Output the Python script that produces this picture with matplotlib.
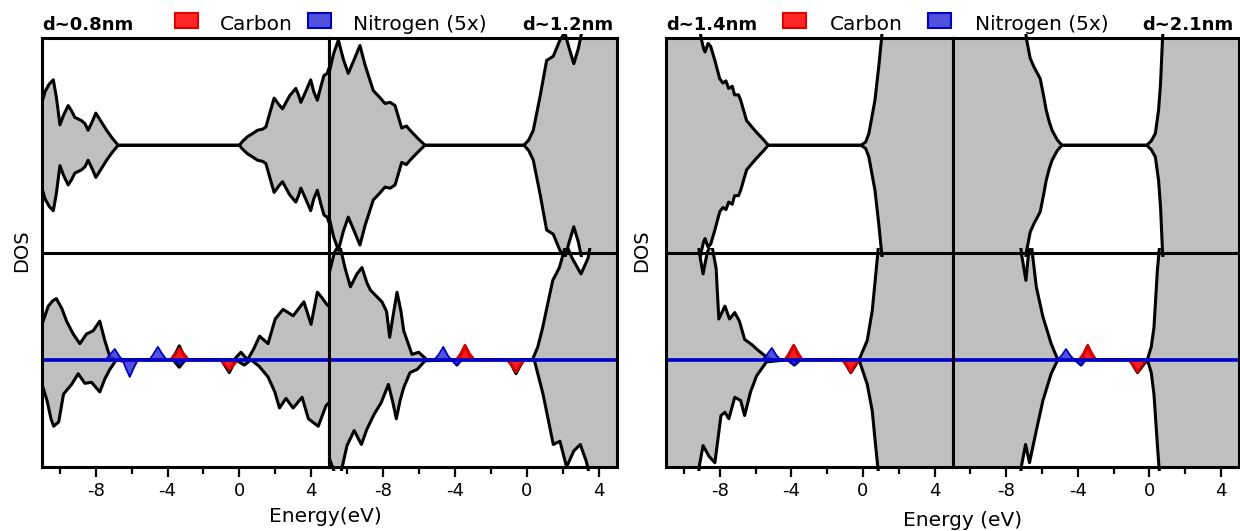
import numpy as np
import matplotlib
matplotlib.use("Agg")
import matplotlib.pyplot as plt
from matplotlib.patches import Rectangle

plt.rcParams['font.family'] = ['DejaVu Sans']
plt.rcParams['axes.unicode_minus'] = False

"""
==================================================================================
    Values read off the picture. Energies in eV, DOS in units of half a row
    (1.0 = the curve touches the row edge, 1.3 = clipped off the row).
==================================================================================
"""

energyRange = (-11, 5)
majorTicks = [-8, -4, 0, 4]
minorTicks = [-10, -6, -2, 2]
majorTickLabels = ["-8", "-4", "0", "4"]

panelSizes = ["d~0.8nm", "d~1.2nm", "d~1.4nm", "d~2.1nm"]
legendLabels = ["Carbon", "Nitrogen (5x)"]
xLabels = ["Energy(eV)", "Energy (eV)"]
yLabel = "DOS"

# d~0.8nm, pristine (top row, mirrored)
col1TopE = [-11.0, -10.83, -10.6, -10.37, -10.2, -10.0, -9.8, -9.54, -9.35, -9.17, -8.8, -8.6, -8.43,
            -8.2, -8.0, -7.7, -7.4, -7.1, -6.76, 0.0, 0.2, 0.46, 0.75, 1.02, 1.3, 1.48, 1.7, 1.94, 2.2,
            2.41, 2.8, 3.15, 3.3, 3.43, 3.7, 3.98, 4.15, 4.35, 4.55, 4.72, 4.9, 5.0]
col1TopD = [0.40, 0.50, 0.57, 0.61, 0.45, 0.19, 0.28, 0.37, 0.32, 0.26, 0.23, 0.20, 0.14,
            0.22, 0.30, 0.22, 0.14, 0.07, 0.0, 0.0, 0.04, 0.08, 0.11, 0.14, 0.15, 0.17, 0.30, 0.44, 0.38,
            0.34, 0.46, 0.53, 0.47, 0.40, 0.50, 0.61, 0.50, 0.42, 0.55, 0.65, 0.67, 0.72]

# d~0.8nm, doped (bottom row, spin up / spin down)
col1BotUpE = [-11.0, -10.65, -10.4, -10.2, -9.9, -9.63, -9.26, -8.89, -8.52, -8.15, -7.78, -7.5, -7.22,
              -6.9, -3.8, -3.55, -3.35, -3.15, -2.9, -0.3, 0.09, 0.46, 0.8, 1.13, 1.6, 2.0, 2.44, 3.0,
              3.6, 4.0, 4.35, 4.6, 4.9, 5.0]
col1BotUpD = [0.33, 0.50, 0.55, 0.57, 0.48, 0.36, 0.24, 0.15, 0.24, 0.27, 0.36, 0.18, 0.03,
              0.0, 0.0, 0.06, 0.13, 0.06, 0.0, 0.0, 0.07, 0.0, 0.10, 0.22, 0.15, 0.38, 0.47, 0.41,
              0.54, 0.33, 0.63, 0.58, 0.51, 0.50]
col1BotDnE = [-11.0, -10.72, -10.5, -10.35, -10.07, -9.8, -9.35, -8.98, -8.61, -8.24, -7.78, -7.5, -7.22,
              -6.85, -3.7, -3.35, -3.0, -1.0, -0.56, -0.2, 0.28, 0.65, 1.1, 1.6, 1.98, 2.24, 2.6, 3.0,
              3.5, 3.85, 4.4, 4.83, 5.0]
col1BotDnD = [0.23, 0.38, 0.55, 0.62, 0.58, 0.32, 0.23, 0.13, 0.22, 0.21, 0.30, 0.18, 0.09,
              0.0, 0.0, 0.07, 0.0, 0.0, 0.12, 0.0, 0.05, 0.0, 0.06, 0.16, 0.30, 0.45, 0.36, 0.45,
              0.35, 0.55, 0.62, 0.43, 0.40]
col1CarbonE = [-11.0, -7.0, -6.5, -6.0, -3.85, -3.6, -3.33, -3.05, -2.8, -1.1, -0.8, -0.56, -0.3, -0.05, 5.0]
col1CarbonD = [0.0, 0.0, -0.02, 0.0, 0.0, 0.05, 0.11, 0.05, 0.0, 0.0, -0.05, -0.10, -0.05, 0.0, 0.0]
col1NitrogenE = [-11.0, -7.45, -7.2, -6.94, -6.68, -6.5, -6.35, -6.11, -5.87, -5.65, -5.0, -4.8, -4.54,
                 -4.28, -4.05, -3.75, -3.33, -2.95, 5.0]
col1NitrogenD = [0.0, 0.0, 0.05, 0.10, 0.03, 0.0, -0.07, -0.16, -0.07, 0.0, 0.0, 0.05, 0.12,
                 0.05, 0.0, 0.0, -0.04, 0.0, 0.0]

# d~1.2nm
col2TopE = [-11.0, -10.75, -10.48, -10.2, -9.93, -9.6, -9.28, -9.0, -8.54, -8.2, -7.89, -7.6, -7.33,
            -6.96, -6.7, -6.5, -6.1, -5.67, -0.17, 0.1, 0.35, 0.72, 1.09, 1.46, 1.83, 2.1, 2.35, 2.6,
            2.85, 3.1, 3.3, 5.0]
col2TopD = [0.67, 0.85, 0.98, 0.80, 0.67, 0.80, 0.93, 0.75, 0.51, 0.45, 0.39, 0.40, 0.37,
            0.16, 0.18, 0.14, 0.07, 0.0, 0.0, 0.05, 0.14, 0.45, 0.79, 0.83, 0.98, 1.05, 0.90, 0.76,
            0.90, 1.10, 1.30, 1.30]
col2BotUpE = [-11.0, -10.7, -10.42, -10.1, -9.81, -9.45, -9.17, -8.9, -8.7, -8.06, -7.8, -7.63, -7.45,
              -7.22, -7.0, -6.85, -6.39, -6.02, -5.56, -3.8, -3.44, -3.1, 0.3, 0.6, 0.87, 1.43, 1.8,
              2.17, 2.5, 3.0, 3.4, 3.65, 5.0]
col2BotUpD = [0.80, 1.0, 1.08, 0.85, 0.68, 0.80, 0.86, 0.72, 0.65, 0.54, 0.45, 0.21, 0.40,
              0.63, 0.45, 0.27, 0.05, 0.07, 0.0, 0.0, 0.13, 0.0, 0.0, 0.12, 0.30, 0.74, 0.86,
              1.08, 0.95, 0.80, 0.95, 1.20, 1.30]
col2BotDnE = [-11.0, -10.7, -10.4, -10.0, -9.6, -9.2, -8.9, -8.5, -8.1, -7.7, -7.45, -7.26, -7.05,
              -6.85, -6.5, -6.1, -5.67, -4.1, -3.89, -3.7, -1.0, -0.61, -0.2, 0.4, 0.89, 1.46, 1.83,
              2.2, 2.6, 2.96, 3.3, 3.5, 5.0]
col2BotDnD = [0.91, 1.05, 1.10, 0.80, 0.66, 0.79, 0.65, 0.51, 0.40, 0.23, 0.40, 0.55, 0.38,
              0.26, 0.12, 0.09, 0.01, 0.0, 0.05, 0.0, 0.0, 0.13, 0.0, 0.0, 0.32, 0.79, 0.76,
              1.0, 0.85, 0.79, 0.95, 1.10, 1.30]
col2CarbonE = [-11.0, -3.95, -3.7, -3.44, -3.18, -2.9, -1.15, -0.88, -0.61, -0.35, -0.1, 5.0]
col2CarbonD = [0.0, 0.0, 0.06, 0.14, 0.06, 0.0, 0.0, -0.05, -0.12, -0.05, 0.0, 0.0]
col2NitrogenE = [-11.0, -5.15, -4.9, -4.65, -4.4, -4.2, -4.05, -3.89, -3.7, -3.55, 5.0]
col2NitrogenD = [0.0, 0.0, 0.05, 0.12, 0.04, 0.0, -0.03, -0.05, -0.02, 0.0, 0.0]

# d~1.4nm
col3TopE = [-11.0, -9.3, -9.04, -8.9, -8.82, -8.65, -8.5, -8.27, -8.0, -7.82, -7.65, -7.5, -7.3,
            -7.17, -6.95, -6.83, -6.5, -6.2, -5.94, -5.6, -5.29, -0.11, 0.15, 0.33, 0.67, 0.88,
            1.04, 1.2, 5.0]
col3TopD = [1.3, 1.3, 1.0, 0.90, 0.87, 0.95, 0.92, 0.79, 0.62, 0.58, 0.60, 0.53, 0.55,
            0.47, 0.47, 0.42, 0.23, 0.17, 0.12, 0.06, 0.0, 0.0, 0.03, 0.11, 0.42, 0.73,
            1.0, 1.3, 1.3]
col3BotUpE = [-11.0, -9.3, -9.14, -8.93, -8.7, -8.45, -8.2, -8.05, -7.71, -7.45, -7.16, -6.9, -6.61,
              -6.2, -5.94, -5.5, -5.1, -4.3, -3.87, -3.45, -0.22, 0.24, 0.52, 0.7, 0.83, 1.0, 5.0]
col3BotUpD = [1.3, 1.3, 1.0, 0.80, 1.0, 1.08, 0.85, 0.38, 0.50, 0.38, 0.44, 0.36, 0.19,
              0.14, 0.10, 0.04, 0.0, 0.0, 0.13, 0.0, 0.0, 0.18, 0.46, 0.77, 1.0, 1.3, 1.3]
col3BotDnE = [-11.0, -9.3, -9.14, -8.93, -8.6, -8.27, -7.93, -7.71, -7.49, -7.16, -6.83, -6.61, -6.28,
              -5.94, -5.39, -4.2, -3.83, -3.5, -1.1, -0.68, -0.22, 0.24, 0.52, 0.7, 0.83, 1.0, 5.0]
col3BotDnD = [1.3, 1.3, 0.99, 0.80, 0.90, 0.96, 0.52, 0.49, 0.55, 0.35, 0.38, 0.52, 0.30,
              0.15, 0.02, 0.0, 0.05, 0.0, 0.0, 0.12, 0.0, 0.23, 0.48, 0.79, 1.0, 1.3, 1.3]
col3CarbonE = [-11.0, -4.4, -4.13, -3.87, -3.6, -3.35, -1.2, -0.94, -0.68, -0.42, -0.15, 5.0]
col3CarbonD = [0.0, 0.0, 0.06, 0.14, 0.06, 0.0, 0.0, -0.05, -0.12, -0.05, 0.0, 0.0]
col3NitrogenE = [-11.0, -5.6, -5.35, -5.09, -4.83, -4.6, -4.2, -4.0, -3.83, -3.65, -3.5, 5.0]
col3NitrogenD = [0.0, 0.0, 0.05, 0.11, 0.04, 0.0, 0.0, -0.03, -0.05, -0.02, 0.0, 0.0]

# d~2.1nm
col4TopE = [-11.0, -7.0, -6.88, -6.66, -6.45, -6.32, -6.1, -5.9, -5.77, -5.6, -5.44, -5.15, -4.89,
            -0.15, 0.1, 0.33, 0.51, 0.62, 0.73, 0.9, 5.0]
col4TopD = [1.3, 1.3, 1.0, 0.81, 0.73, 0.69, 0.62, 0.45, 0.33, 0.22, 0.14, 0.05, 0.0,
            0.0, 0.04, 0.11, 0.33, 0.58, 1.0, 1.3, 1.3]
col4BotUpE = [-11.0, -7.3, -7.16, -6.9, -6.75, -6.6, -6.32, -5.95, -5.49, -5.12, -3.8, -3.45, -3.1,
              -0.12, 0.1, 0.25, 0.44, 0.53, 0.7, 5.0]
col4BotUpD = [1.3, 1.3, 1.0, 0.74, 1.0, 1.08, 0.68, 0.40, 0.15, 0.0, 0.0, 0.13, 0.0,
              0.0, 0.12, 0.30, 0.83, 1.0, 1.3, 1.3]
col4BotDnE = [-11.0, -7.3, -7.16, -6.92, -6.7, -6.32, -5.95, -5.49, -5.12, -4.1, -3.82, -3.6, -1.1,
              -0.67, -0.12, 0.1, 0.25, 0.44, 0.53, 0.7, 5.0]
col4BotDnD = [1.3, 1.3, 1.0, 0.79, 0.96, 0.66, 0.38, 0.13, 0.0, 0.0, 0.05, 0.0, 0.0,
              0.12, 0.0, 0.12, 0.32, 0.79, 1.0, 1.3, 1.3]
col4CarbonE = [-11.0, -3.95, -3.7, -3.45, -3.2, -2.95, -1.2, -0.93, -0.67, -0.41, -0.15, 5.0]
col4CarbonD = [0.0, 0.0, 0.06, 0.14, 0.06, 0.0, 0.0, -0.05, -0.12, -0.05, 0.0, 0.0]
col4NitrogenE = [-11.0, -5.15, -4.9, -4.66, -4.42, -4.2, -4.0, -3.82, -3.65, -3.5, 5.0]
col4NitrogenD = [0.0, 0.0, 0.04, 0.10, 0.04, 0.0, -0.03, -0.05, -0.02, 0.0, 0.0]

"""
==================================================================================
"""

GRAY = "#bfbfbf"
CARBON_FACE = (1.0, 0.0, 0.0, 0.85)
CARBON_EDGE = "#e00000"
NITROGEN_FACE = (0.2, 0.2, 0.85, 0.85)
NITROGEN_EDGE = "#0000c0"
BASELINE = "#0000cc"
LINE_WIDTH = 2.2

W, H = 1240, 531


def figX(px):
    return px / W


def figY(px):
    return 1 - px / H


def drawRow(ax, center, eUp, dUp, eDown, dDown):
    """ Gray filled DOS between the upper and the (mirrored) lower curve, clipped to its row. """
    rowLow = center - 0.5
    upY = center + 0.5 * np.array(dUp)
    downY = center - 0.5 * np.array(dDown)

    polyX = np.concatenate([eUp, eDown[::-1]])
    polyY = np.concatenate([upY, downY[::-1]])
    patch = ax.fill(polyX, polyY, color=GRAY, lw=0, zorder=1)[0]
    patch.set_clip_path(Rectangle((energyRange[0], rowLow), 16, 1.0, transform=ax.transData))

    for xs, ys in ((eUp, upY), (eDown, downY)):
        line, = ax.plot(xs, ys, color="black", lw=LINE_WIDTH, zorder=2,
                        solid_joinstyle="round", solid_capstyle="round")
        line.set_clip_path(Rectangle((energyRange[0], rowLow - 0.02), 16, 1.04, transform=ax.transData))


def drawPdos(ax, center, energies, values, face, edge):
    ys = center + 0.5 * np.array(values)
    ax.fill_between(energies, center, ys, color=face, lw=0, zorder=3)
    ax.plot(energies, ys, color=edge, lw=1.3, zorder=3, solid_joinstyle="round")


fig = plt.figure(figsize=(W / 100, H / 100), dpi=100)

columnEdges = [(42, 329), (329, 617), (666, 952.5), (952.5, 1239)]
columns = [
    (col1TopE, col1TopD, col1BotUpE, col1BotUpD, col1BotDnE, col1BotDnD,
     col1CarbonE, col1CarbonD, col1NitrogenE, col1NitrogenD),
    (col2TopE, col2TopD, col2BotUpE, col2BotUpD, col2BotDnE, col2BotDnD,
     col2CarbonE, col2CarbonD, col2NitrogenE, col2NitrogenD),
    (col3TopE, col3TopD, col3BotUpE, col3BotUpD, col3BotDnE, col3BotDnD,
     col3CarbonE, col3CarbonD, col3NitrogenE, col3NitrogenD),
    (col4TopE, col4TopD, col4BotUpE, col4BotUpD, col4BotDnE, col4BotDnD,
     col4CarbonE, col4CarbonD, col4NitrogenE, col4NitrogenD),
]

for (left, right), data in zip(columnEdges, columns):
    topE, topD, upE, upD, dnE, dnD, cE, cD, nE, nD = [np.array(v) for v in data]
    ax = fig.add_axes([figX(left), figY(467), (right - left) / W, (467 - 38) / H])
    ax.set_xlim(*energyRange)
    ax.set_ylim(0, 2)

    # Top row: symmetric DOS, bottom row: spin up / down DOS with projected states.
    drawRow(ax, 1.5, topE, topD, topE, topD)
    drawRow(ax, 0.5, upE, upD, dnE, dnD)
    drawPdos(ax, 0.5, cE, cD, CARBON_FACE, CARBON_EDGE)
    drawPdos(ax, 0.5, nE, nD, NITROGEN_FACE, NITROGEN_EDGE)
    ax.axhline(0.5, color=BASELINE, lw=2.6, zorder=4)
    ax.axhline(1.0, color="black", lw=LINE_WIDTH, zorder=5)

    ax.set_xticks(majorTicks)
    ax.set_xticklabels(majorTickLabels)
    ax.set_xticks(minorTicks, minor=True)
    ax.set_yticks([])
    ax.tick_params(axis="x", which="major", direction="out", length=7, width=1.6, labelsize=13, pad=4)
    ax.tick_params(axis="x", which="minor", direction="out", length=5, width=1.6)
    for spine in ax.spines.values():
        spine.set_linewidth(LINE_WIDTH)
        spine.set_zorder(6)

# Headers with size labels and legend patches.
headerBaseline = figY(30)
headers = [
    (42, panelSizes[0], "left"), (613, panelSizes[1], "right"),
    (666, panelSizes[2], "left"), (1233, panelSizes[3], "right"),
]
for x, text, align in headers:
    fig.text(figX(x), headerBaseline, text, ha=align, va="baseline", fontsize=13, fontweight="bold")

legendPatches = [(175, 220, CARBON_FACE, CARBON_EDGE, legendLabels[0]),
                 (308, 353, NITROGEN_FACE, NITROGEN_EDGE, legendLabels[1]),
                 (783, 830, CARBON_FACE, CARBON_EDGE, legendLabels[0]),
                 (928, 975, NITROGEN_FACE, NITROGEN_EDGE, legendLabels[1])]
for patchX, textX, face, edge, label in legendPatches:
    fig.add_artist(Rectangle((figX(patchX), figY(28)), 23 / W, 15 / H, transform=fig.transFigure,
                             facecolor=face, edgecolor=edge, lw=1.5))
    fig.text(figX(textX), headerBaseline, label, ha="left", va="baseline", fontsize=14.5)

fig.text(figX(325), figY(517), xLabels[0], ha="center", va="center", fontsize=14.5)
fig.text(figX(963), figY(521), xLabels[1], ha="center", va="center", fontsize=14.5)
fig.text(figX(22), figY(251), yLabel, ha="center", va="center", rotation=90, fontsize=14)
fig.text(figX(642), figY(251), yLabel, ha="center", va="center", rotation=90, fontsize=14)

fig.savefig("out.png", dpi=100)
